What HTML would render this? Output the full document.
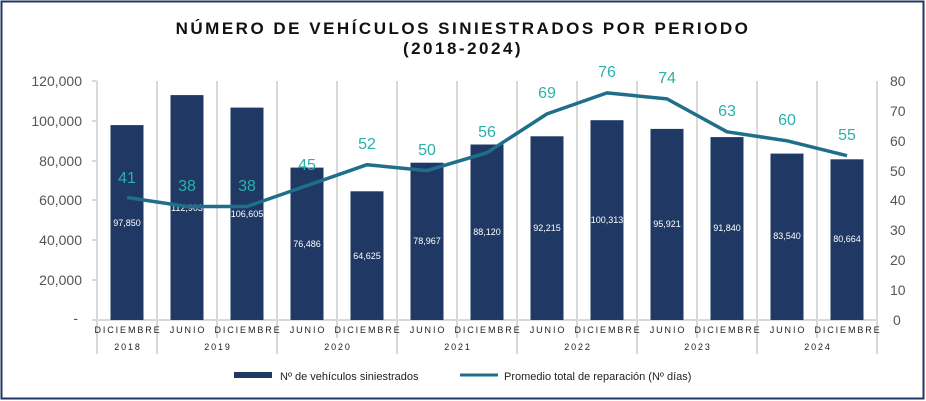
<!DOCTYPE html>
<html><head><meta charset="utf-8"><style>
html,body{margin:0;padding:0;background:#fff;}
svg{display:block;font-family:"Liberation Sans","DejaVu Sans",sans-serif;}
</style></head><body>
<svg width="926" height="401" viewBox="0 0 926 401">
<rect x="1.5" y="1.5" width="922" height="397" fill="#fff" stroke="#1f3864" stroke-width="2"/>
<text x="463" y="34" text-anchor="middle" font-size="17" font-weight="bold" letter-spacing="2.5" fill="#111">NÚMERO DE VEHÍCULOS SINIESTRADOS POR PERIODO</text>
<text x="463" y="54" text-anchor="middle" font-size="17" font-weight="bold" letter-spacing="2.5" fill="#111">(2018-2024)</text>
<g stroke="#d9d9d9" stroke-width="2">
<line x1="97" y1="81" x2="97" y2="354"/><line x1="157" y1="81" x2="157" y2="354"/>
<line x1="217" y1="81" x2="217" y2="338"/><line x1="277" y1="81" x2="277" y2="354"/>
<line x1="337" y1="81" x2="337" y2="338"/><line x1="397" y1="81" x2="397" y2="354"/>
<line x1="457" y1="81" x2="457" y2="338"/><line x1="517" y1="81" x2="517" y2="354"/>
<line x1="577" y1="81" x2="577" y2="338"/><line x1="637" y1="81" x2="637" y2="354"/>
<line x1="697" y1="81" x2="697" y2="338"/><line x1="757" y1="81" x2="757" y2="354"/>
<line x1="817" y1="81" x2="817" y2="338"/><line x1="877" y1="81" x2="877" y2="354"/>
<line x1="92" y1="320" x2="877" y2="320"/>
<line x1="92" y1="81" x2="97" y2="81"/><line x1="92" y1="121" x2="97" y2="121"/><line x1="92" y1="161" x2="97" y2="161"/><line x1="92" y1="200" x2="97" y2="200"/><line x1="92" y1="240" x2="97" y2="240"/><line x1="92" y1="280" x2="97" y2="280"/>
</g>
<g fill="#555" font-size="14" text-anchor="end">
<text x="82" y="86">120,000</text><text x="82" y="126">100,000</text><text x="82" y="166">80,000</text><text x="82" y="205">60,000</text><text x="82" y="245">40,000</text><text x="82" y="285">20,000</text><text x="78" y="323">-</text>
</g>
<g fill="#555" font-size="14">
<text x="890" y="86">80</text><text x="890" y="116">70</text><text x="890" y="146">60</text><text x="890" y="176">50</text><text x="890" y="205">40</text><text x="890" y="235">30</text><text x="890" y="265">20</text><text x="890" y="295">10</text><text x="893" y="325">0</text>
</g>
<g fill="#1f3864">
<rect x="110.5" y="125.1" width="33" height="194.9"/>
<rect x="170.5" y="95.1" width="33" height="224.9"/>
<rect x="230.5" y="107.6" width="33" height="212.4"/>
<rect x="290.5" y="167.6" width="33" height="152.4"/>
<rect x="350.5" y="191.3" width="33" height="128.7"/>
<rect x="410.5" y="162.7" width="33" height="157.3"/>
<rect x="470.5" y="144.5" width="33" height="175.5"/>
<rect x="530.5" y="136.3" width="33" height="183.7"/>
<rect x="590.5" y="120.2" width="33" height="199.8"/>
<rect x="650.5" y="128.9" width="33" height="191.1"/>
<rect x="710.5" y="137.1" width="33" height="182.9"/>
<rect x="770.5" y="153.6" width="33" height="166.4"/>
<rect x="830.5" y="159.3" width="33" height="160.7"/>
</g>
<g fill="#fff" font-size="9" text-anchor="middle">
<text x="127" y="226">97,850</text><text x="187" y="211">112,903</text><text x="247" y="217">106,605</text>
<text x="307" y="247">76,486</text><text x="367" y="259">64,625</text><text x="427" y="244">78,967</text>
<text x="487" y="235">88,120</text><text x="547" y="231">92,215</text><text x="607" y="223">100,313</text>
<text x="667" y="227">95,921</text><text x="727" y="231">91,840</text><text x="787" y="239">83,540</text><text x="847" y="242">80,664</text>
</g>
<polyline fill="none" stroke="#1f6f8b" stroke-width="3.5" stroke-linejoin="round" points="127,197.5 187,206.5 247,206.5 307,185.6 367,164.7 427,170.6 487,152.7 547,113.9 607,92.9 667,98.9 727,131.8 787,140.8 847,155.7"/>
<g fill="#2bb0aa" font-size="16" text-anchor="middle">
<text x="127" y="183">41</text><text x="187" y="191">38</text><text x="247" y="191">38</text><text x="307" y="170">45</text><text x="367" y="149">52</text><text x="427" y="155">50</text><text x="487" y="137">56</text><text x="547" y="98">69</text><text x="607" y="77">76</text><text x="667" y="83">74</text><text x="727" y="116">63</text><text x="787" y="125">60</text><text x="847" y="140">55</text>
</g>
<g fill="#222" font-size="9" text-anchor="middle" letter-spacing="1.9">
<text x="128" y="333">DICIEMBRE</text><text x="188" y="333">JUNIO</text><text x="248" y="333">DICIEMBRE</text><text x="308" y="333">JUNIO</text><text x="368" y="333">DICIEMBRE</text><text x="428" y="333">JUNIO</text><text x="488" y="333">DICIEMBRE</text><text x="548" y="333">JUNIO</text><text x="608" y="333">DICIEMBRE</text><text x="668" y="333">JUNIO</text><text x="728" y="333">DICIEMBRE</text><text x="788" y="333">JUNIO</text><text x="848" y="333">DICIEMBRE</text>
<text x="128" y="350">2018</text><text x="218" y="350">2019</text><text x="338" y="350">2020</text><text x="458" y="350">2021</text><text x="578" y="350">2022</text><text x="698" y="350">2023</text><text x="818" y="350">2024</text>
</g>
<rect x="234" y="372" width="38" height="6" fill="#1f3864"/>
<text x="280" y="380" font-size="11" fill="#222">Nº de vehículos siniestrados</text>
<line x1="460" y1="375" x2="498" y2="375" stroke="#1f6f8b" stroke-width="3"/>
<text x="504" y="380" font-size="11" fill="#222">Promedio total de reparación (Nº días)</text>
</svg>
</body></html>
